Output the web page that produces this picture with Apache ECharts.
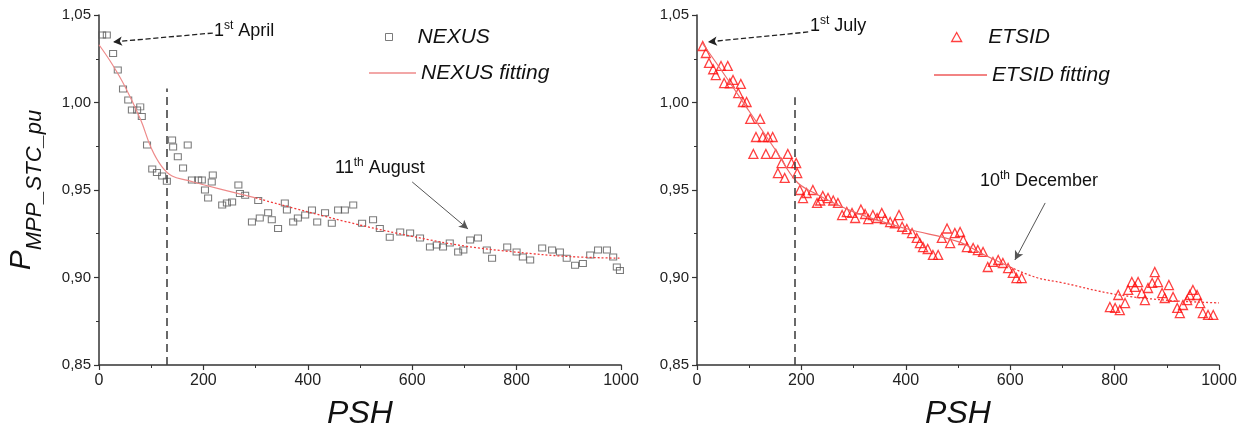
<!DOCTYPE html>
<html>
<head>
<meta charset="utf-8">
<script src="https://cdn.jsdelivr.net/npm/echarts@6/dist/echarts.min.js"></script>
<style>
  html, body { margin: 0; padding: 0; background: #fff; }
  #chart { width: 1251px; height: 435px; }
</style>
</head>
<body>
<div id="chart"></div>
<script>
// NEXUS measured points (PSH, P_MPP_STC_pu)
var nexusPsh = [6, 15, 27, 36, 46, 56, 63, 73, 79, 82, 92, 102, 111, 121, 130, 140, 142, 151, 161, 170,
  178, 190, 197, 203, 209, 216, 218, 236, 245, 255, 267, 270, 280, 293, 305, 308, 324, 331, 343, 356,
  360, 372, 381, 395, 408, 418, 433, 446, 458, 471, 487, 504, 525, 538, 557, 577, 596, 615, 634, 647,
  659, 672, 688, 698, 711, 726, 743, 753, 782, 800, 812, 826, 849, 868, 883, 896, 912, 927, 941, 956,
  973, 985, 992, 998];
var nexusP = [1.0386, 1.0386, 1.028, 1.0186, 1.0077, 1.0014, 0.9957, 0.9957, 0.9975, 0.992, 0.9757, 0.962, 0.960, 0.958, 0.955, 0.9786, 0.9746, 0.969, 0.9626, 0.9757,
  0.9557, 0.9557, 0.9557, 0.950, 0.9454, 0.9546, 0.9586, 0.9414, 0.9426, 0.9431, 0.9529, 0.948, 0.947, 0.9317, 0.944, 0.934, 0.937, 0.933, 0.928, 0.9426,
  0.9386, 0.9317, 0.934, 0.9357, 0.9386, 0.9317, 0.937, 0.931, 0.9386, 0.9386, 0.9414, 0.931, 0.933, 0.928, 0.923, 0.926, 0.9254, 0.9226, 0.9174, 0.9186,
  0.9174, 0.9197, 0.9146, 0.9157, 0.9214, 0.9226, 0.9157, 0.911, 0.9174, 0.9146, 0.9117, 0.910, 0.9169, 0.9157, 0.9146, 0.911, 0.907, 0.908, 0.9129, 0.9157,
  0.9157, 0.9117, 0.906, 0.904];

// NEXUS fitting curve
var nexusFitPsh = [0, 25, 50, 80, 100, 120, 140, 170, 200, 300, 400, 500, 600, 700, 800, 900, 1000];
var nexusFitP = [1.033, 1.022, 1.009, 0.990, 0.974, 0.9635, 0.958, 0.9555, 0.953, 0.9455, 0.9375, 0.930, 0.9235, 0.918, 0.9145, 0.912, 0.911];

// ETSID measured points
var etsidPsh = [11, 17, 23, 31, 36, 46, 52, 59, 63, 69, 79, 84, 88, 95, 102, 108, 113, 121, 126, 132,
  136, 145, 151, 155, 162, 168, 174, 181, 190, 192, 197, 203, 210, 222, 230, 236, 241, 251, 261, 270,
  278, 287, 297, 303, 314, 322, 328, 337, 345, 354, 360, 370, 379, 387, 393, 402, 412, 421, 427, 433,
  442, 452, 462, 469, 479, 485, 494, 504, 510, 517, 529, 538, 548, 557, 567, 577, 586, 596, 605, 612,
  622, 791, 801, 807, 810, 820, 826, 833, 839, 845, 852, 858, 864, 872, 877, 883, 891, 896, 904, 912,
  920, 925, 931, 939, 944, 950, 958, 964, 969, 979, 989];
var etsidP = [1.0323, 1.0283, 1.0226, 1.019, 1.0157, 1.0209, 1.0111, 1.0209, 1.011, 1.0129, 1.0054, 1.0106, 1.0003, 1.0003, 0.9906, 0.9706, 0.9803, 0.9906, 0.9803, 0.9706,
  0.9803, 0.9803, 0.9706, 0.9597, 0.9654, 0.9569, 0.9706, 0.9654, 0.9654, 0.9597, 0.950, 0.9454, 0.9483, 0.950, 0.9426, 0.944, 0.9466, 0.9454, 0.944, 0.9426,
  0.9357, 0.9374, 0.9369, 0.934, 0.9389, 0.9363, 0.9334, 0.9357, 0.934, 0.9369, 0.9334, 0.9317, 0.931, 0.9357, 0.929, 0.9277, 0.9254, 0.9226, 0.9197, 0.9174,
  0.9163, 0.9129, 0.9129, 0.9226, 0.928, 0.9197, 0.9254, 0.926, 0.9214, 0.9174, 0.9169, 0.9157, 0.9146, 0.906, 0.9089, 0.910, 0.9083, 0.9054, 0.9026, 0.8997,
  0.8997, 0.8831, 0.8826, 0.890, 0.8814, 0.8854, 0.8929, 0.8974, 0.8946, 0.8974, 0.8911, 0.8871, 0.894, 0.8969, 0.9031, 0.8974, 0.8911, 0.8883, 0.8957, 0.8889,
  0.8826, 0.8797, 0.8843, 0.8871, 0.890, 0.8929, 0.890, 0.8854, 0.8797, 0.8786, 0.8786];

// ETSID fitting curve
var etsidFitPsh = [10, 50, 100, 150, 190, 220, 300, 400, 500, 550, 600, 650, 700, 800, 900, 1000];
var etsidFitP = [1.034, 1.017, 0.995, 0.973, 0.955, 0.949, 0.9375, 0.928, 0.9205, 0.913, 0.906, 0.900, 0.897, 0.8905, 0.887, 0.8855];

function pairs(xs, ys) {
  return xs.map(function (x, i) { return [x, ys[i]]; });
}
function fitPart(xs, ys, from, to) {
  return pairs(xs, ys).filter(function (p) { return p[0] >= from && p[0] <= to; });
}

var chart = echarts.init(document.getElementById('chart'));

var FONT = '"Liberation Sans", Arial, sans-serif';
var NEXUS_EDGE = '#5a5a5a';
var ETSID_EDGE = '#ff1010';
var FIT_SOLID = '#ee8a8a';
var FIT_DOT = '#f23a3a';

function xAxisFor(idx) {
  return {
    gridIndex: idx, type: 'value', min: 0, max: 1000, interval: 200,
    name: 'PSH', nameLocation: 'middle', nameGap: 33,
    nameTextStyle: { fontFamily: FONT, fontSize: 32, fontStyle: 'italic', color: '#111' },
    axisLine: { lineStyle: { color: '#333', width: 1.5 } },
    axisTick: { inside: false, length: 5, lineStyle: { color: '#333', width: 1.2 } },
    minorTick: { show: true, splitNumber: 2, length: 3, lineStyle: { color: '#333' } },
    axisLabel: { fontFamily: FONT, fontSize: 16, color: '#222', margin: 8, formatter: function (v) { return String(v); } },
    splitLine: { show: false }
  };
}
function yAxisFor(idx, withName) {
  var ax = {
    gridIndex: idx, type: 'value', min: 0.85, max: 1.05, interval: 0.05,
    axisLine: { show: true, lineStyle: { color: '#333', width: 1.5 } },
    axisTick: { show: true, inside: false, length: 5, lineStyle: { color: '#333', width: 1.2 } },
    minorTick: { show: true, splitNumber: 2, length: 3, lineStyle: { color: '#333' } },
    axisLabel: {
      fontFamily: FONT, fontSize: 15, color: '#222', margin: 8,
      formatter: function (v) { return v.toFixed(2).replace('.', ','); }
    },
    splitLine: { show: false }
  };
  if (withName) {
    ax.name = '{p|P}{s|MPP_STC_pu}';
    ax.nameLocation = 'middle';
    ax.nameRotate = 90;
    ax.nameGap = 36;
    ax.nameTextStyle = {
      rich: {
        p: { fontFamily: FONT, fontSize: 30, fontStyle: 'italic', color: '#111', lineHeight: 30, verticalAlign: 'top' },
        s: { fontFamily: FONT, fontSize: 22, fontStyle: 'italic', color: '#111', lineHeight: 56, verticalAlign: 'middle' }
      }
    };
  }
  return ax;
}

var supRich = {
  n: { fontFamily: FONT, fontSize: 18, color: '#111', lineHeight: 22, verticalAlign: 'middle' },
  s: { fontFamily: FONT, fontSize: 12, color: '#111', lineHeight: 12, verticalAlign: 'top' }
};
function noteText(x, y, num, sup, rest) {
  return {
    type: 'text', left: x, top: y, silent: true,
    style: { text: '{n|' + num + '}{s|' + sup + '}{n|' + rest + '}', rich: supRich, fill: '#111' }
  };
}

var arrowDashed = { type: 'dashed', color: '#222', width: 1.3 };
var arrowSolid = { type: 'solid', color: '#555', width: 1 };
var vDash = { type: [8, 5], color: '#444', width: 1.6 };

function mline(items) {
  return { silent: true, animation: false, symbol: ['none', 'arrow'], symbolSize: [7, 9], label: { show: false }, emphasis: { disabled: true }, data: items };
}

var legendText = { fontFamily: FONT, fontSize: 21, fontStyle: 'italic', color: '#111', lineHeight: 24 };
function legendFor(name, icon, style, left, top, w, h) {
  return {
    data: [{ name: name, icon: icon, itemStyle: style }],
    left: left, top: top, itemWidth: w, itemHeight: h, itemGap: 0,
    selectedMode: false, textStyle: legendText
  };
}

var option = {
  animation: false,
  backgroundColor: '#fff',
  grid: [
    { left: 99, top: 15, width: 522, height: 350, containLabel: false },
    { left: 697, top: 15, width: 522, height: 350, containLabel: false }
  ],
  xAxis: [xAxisFor(0), xAxisFor(1)],
  yAxis: [yAxisFor(0, true), yAxisFor(1, false)],
  legend: [
    legendFor('NEXUS', 'path://M0,0H10V10H0Z', { color: 'rgba(0,0,0,0)', borderColor: NEXUS_EDGE, borderWidth: 1 }, 380, 20, 47, 7),
    legendFor('NEXUS fitting', 'rect', { color: FIT_SOLID, borderWidth: 0 }, 364, 56, 47, 1.4),
    legendFor('ETSID', 'path://M5,0L10,9L0,9Z', { color: 'rgba(0,0,0,0)', borderColor: ETSID_EDGE, borderWidth: 1.3 }, 946, 20, 53, 9),
    legendFor('ETSID fitting', 'rect', { color: '#ee5a5a', borderWidth: 0 }, 929, 58, 53, 1.4)
  ],
  graphic: [
    noteText(214, 20, '1', 'st', ' April'),
    noteText(335, 157, '11', 'th', ' August'),
    noteText(810, 15, '1', 'st', ' July'),
    noteText(980, 170, '10', 'th', ' December')
  ],
  series: [
    {
      name: 'NEXUS', type: 'scatter', xAxisIndex: 0, yAxisIndex: 0,
      data: pairs(nexusPsh, nexusP), symbol: 'rect', symbolSize: [7, 6],
      itemStyle: { color: 'rgba(0,0,0,0)', borderColor: NEXUS_EDGE, borderWidth: 1 },
      markLine: {
        silent: true, animation: false, symbol: 'none', label: { show: false }, emphasis: { disabled: true },
        lineStyle: vDash,
        data: [[{ coord: [130, 0.85] }, { coord: [130, 1.008] }]]
      }
    },
    {
      name: 'NEXUS fitting', type: 'line', xAxisIndex: 0, yAxisIndex: 0, smooth: 0.4, symbol: 'none',
      data: fitPart(nexusFitPsh, nexusFitP, 0, 300),
      itemStyle: { color: FIT_SOLID },
      lineStyle: { color: FIT_SOLID, width: 1.2 },
      markLine: mline([
        [{ coord: [218, 1.0397], lineStyle: arrowDashed }, { coord: [27, 1.0346] }],
        [{ coord: [600, 0.9546], lineStyle: arrowSolid }, { coord: [707, 0.9277] }]
      ])
    },
    {
      name: 'NEXUS fitting', type: 'line', xAxisIndex: 0, yAxisIndex: 0, smooth: 0.4, symbol: 'none',
      data: fitPart(nexusFitPsh, nexusFitP, 300, 1000),
      itemStyle: { color: FIT_DOT },
      lineStyle: { color: FIT_DOT, width: 1.3, type: [2, 2] }
    },
    {
      name: 'ETSID', type: 'scatter', xAxisIndex: 1, yAxisIndex: 1,
      data: pairs(etsidPsh, etsidP), symbol: 'triangle', symbolSize: 9,
      itemStyle: { color: 'rgba(0,0,0,0)', borderColor: ETSID_EDGE, borderWidth: 1.3 },
      markLine: {
        silent: true, animation: false, symbol: 'none', label: { show: false }, emphasis: { disabled: true },
        lineStyle: vDash,
        data: [[{ coord: [188, 0.85] }, { coord: [188, 1.003] }]]
      }
    },
    {
      name: 'ETSID fitting', type: 'line', xAxisIndex: 1, yAxisIndex: 1, smooth: 0.4, symbol: 'none',
      data: fitPart(etsidFitPsh, etsidFitP, 0, 600),
      itemStyle: { color: '#ee6a6a' },
      lineStyle: { color: '#ee6a6a', width: 1.2 },
      markLine: mline([
        [{ coord: [213, 1.0403], lineStyle: arrowDashed }, { coord: [21, 1.0346] }],
        [{ coord: [667, 0.9426], lineStyle: arrowSolid }, { coord: [609, 0.910] }]
      ])
    },
    {
      name: 'ETSID fitting', type: 'line', xAxisIndex: 1, yAxisIndex: 1, smooth: 0.4, symbol: 'none',
      data: fitPart(etsidFitPsh, etsidFitP, 600, 1000),
      itemStyle: { color: FIT_DOT },
      lineStyle: { color: FIT_DOT, width: 1.3, type: [2, 2] }
    }
  ]
};

chart.setOption(option);
</script>
</body>
</html>
